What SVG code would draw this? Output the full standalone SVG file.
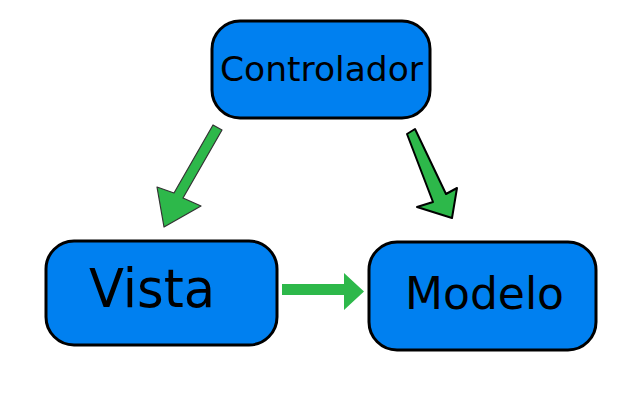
<svg xmlns="http://www.w3.org/2000/svg" width="640" height="400" viewBox="0 0 640 400">
<style>
.box{fill:#0080f0;stroke:#000;stroke-width:3}
.lbl{font-family:"DejaVu Sans",sans-serif;fill:#000}
.arr{fill:#2db84a}
</style>
<rect width="640" height="400" fill="#fff"/>
<g id="connectors">
<polygon class="arr" stroke="#333" stroke-width="1.2" stroke-linejoin="round" points="213,125 222,130 183,198 201,206 164,227 157,187 174,193"/>
<polygon class="arr" stroke="#000" stroke-width="2" stroke-linejoin="round" points="407,134 415,129 446,194 457,188 452,218 417,207 433,202"/>
<polygon class="arr" points="282,284 344,284 344,273 364,291.5 344,310 344,295 282,295"/>
</g>
<g id="controlador">
<rect class="box" x="212" y="21" width="218" height="97" rx="28"/>
<text class="lbl" x="220" y="81" font-size="34.5">Controlador</text>
</g>
<g id="vista">
<rect class="box" x="46" y="241" width="231" height="104" rx="28"/>
<text class="lbl" x="89" y="307" font-size="54" textLength="126" lengthAdjust="spacingAndGlyphs">Vista</text>
</g>
<g id="modelo">
<rect class="box" x="369" y="242" width="227" height="108" rx="28"/>
<text class="lbl" x="405" y="309" font-size="44">Modelo</text>
</g>
</svg>
